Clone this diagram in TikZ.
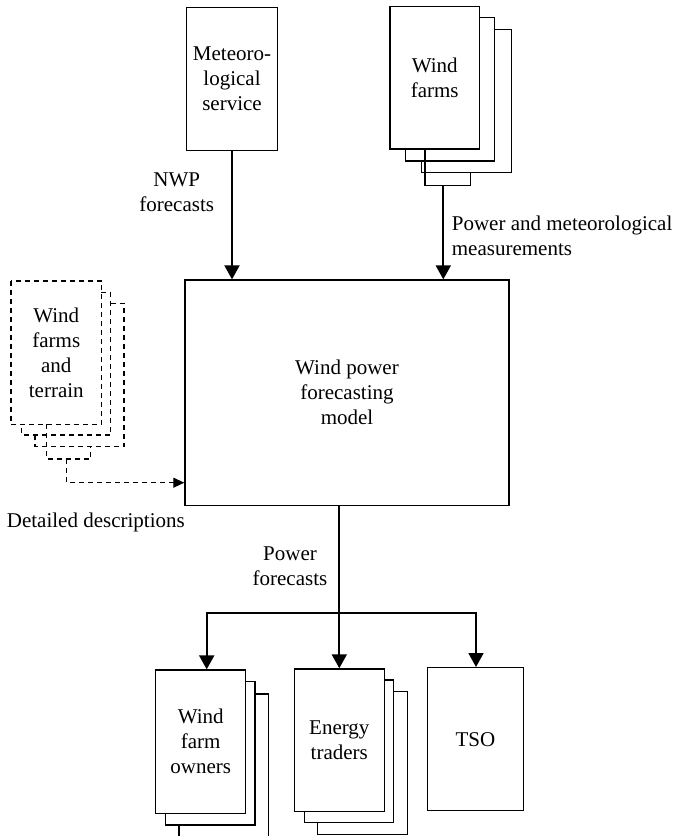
\documentclass[tikz,border=0pt]{standalone}
\usepackage{fontspec}
\setmainfont{Liberation Serif}
\usetikzlibrary{arrows.meta}
\newcommand\lblfont{\fontsize{21}{25}\selectfont}
\begin{document}
\begin{tikzpicture}[x=1pt,y=-1pt,
 box/.style={draw,line width=1.4pt,inner sep=0pt,align=center,font=\lblfont},
 sheet/.style={line width=1.4pt},
 dsheet/.style={line width=1.1pt,dash pattern=on 5pt off 4pt},
 flow/.style={line width=2pt,-{Triangle[width=15pt,length=14pt]}},
 dflow/.style={line width=1.1pt,dash pattern=on 5pt off 4pt,-{Triangle[width=10pt,length=11pt]}},
 lbl/.style={align=center,font=\lblfont,inner sep=0pt}]
\useasboundingbox (0,0) rectangle (677,836);

% main boxes
\node[box,minimum width=90.6pt,minimum height=143.4pt] (met) at (232,79) {Meteoro-\\logical\\service};
\node[box,minimum width=89.3pt,minimum height=142.3pt] (wf) at (434.7,77.8) {Wind\\farms};
\node[box,minimum width=324pt,minimum height=225.3pt] (model) at (347,392.7) {Wind power\\forecasting\\model};
\node[box,draw=none,minimum width=89.3pt,minimum height=142.3pt] (terr) at (56.3,352.8) {Wind\\farms\\and\\terrain};
\draw[dsheet] (terr.north west) rectangle (terr.south east);
\node[box,minimum width=90pt,minimum height=143.3pt] (own) at (200.7,741.7) {Wind\\farm\\owners};
\node[box,minimum width=90pt,minimum height=142.7pt] (trad) at (339.3,740.3) {Energy\\traders};
\node[box,minimum width=96.4pt,minimum height=143pt] (tso) at (475.5,739.2) {TSO};

% wind farms stack
\draw[sheet] (479.3,17.3) -- (494.7,17.3) -- (494.7,161) -- (405.7,161) -- (405.7,149);
\draw[sheet] (494.7,29.3) -- (511.7,29.3) -- (511.7,172.3) -- (421.7,172.3) -- (421.7,161);
\draw[sheet] (425,149) -- (425,185.7) -- (470.3,185.7) -- (470.3,172.3);
\coordinate (wfout) at (443.3,185.7);

% terrain stack (dashed)
\draw[dsheet] (101,292.7) -- (110.7,292.7) -- (110.7,435) -- (21.7,435) -- (21.7,424);
\draw[dsheet] (110.7,303.3) -- (124,303.3) -- (124,446.7) -- (35,446.7) -- (35,435);
\draw[dsheet] (46.7,424) -- (46.7,459) -- (90.7,459) -- (90.7,446.7);
\coordinate (terrout) at (66.7,459);
\coordinate (dy) at (0,482.7);

% owners stack
\draw[sheet] (245.7,681.7) -- (255,681.7) -- (255,825) -- (165.7,825) -- (165.7,813.3);
\draw[sheet] (255,694) -- (268.3,694) -- (268.3,837);
\draw[sheet] (179,825) -- (179,837);

% traders stack
\draw[sheet] (384.3,680) -- (393.3,680) -- (393.3,822.7) -- (304.3,822.7) -- (304.3,811.7);
\draw[sheet] (393.3,691.7) -- (407.3,691.7) -- (407.3,834.3) -- (317.3,834.3) -- (317.3,822.7);

% connectors
\draw[flow] (met.south) -- (met.south |- model.north);
\draw[flow] (wfout) -- (wfout |- model.north);
\draw[dflow] (terrout) |- (model.west |- dy);

\coordinate (busy) at (0,613.3);
\coordinate (bl) at (206.7,613.3);
\coordinate (br) at (476,613.3);
\draw[flow] (trad.north |- model.south) -- (trad.north);
\draw[flow] (trad.north |- busy) -| (bl |- own.north);
\draw[flow] (trad.north |- busy) -| (br |- tso.north);

% labels
\node[lbl] (nwp) at (176.7,192.5) {NWP\\forecasts};
\node[lbl,anchor=west,align=left] (pm) at (451.7,236) {Power and meteorological\\measurements};
\node[lbl,anchor=west] (dd) at (6.7,522) {Detailed descriptions};
\node[lbl] (pf) at (290,566) {Power\\forecasts};
\end{tikzpicture}
\end{document}
